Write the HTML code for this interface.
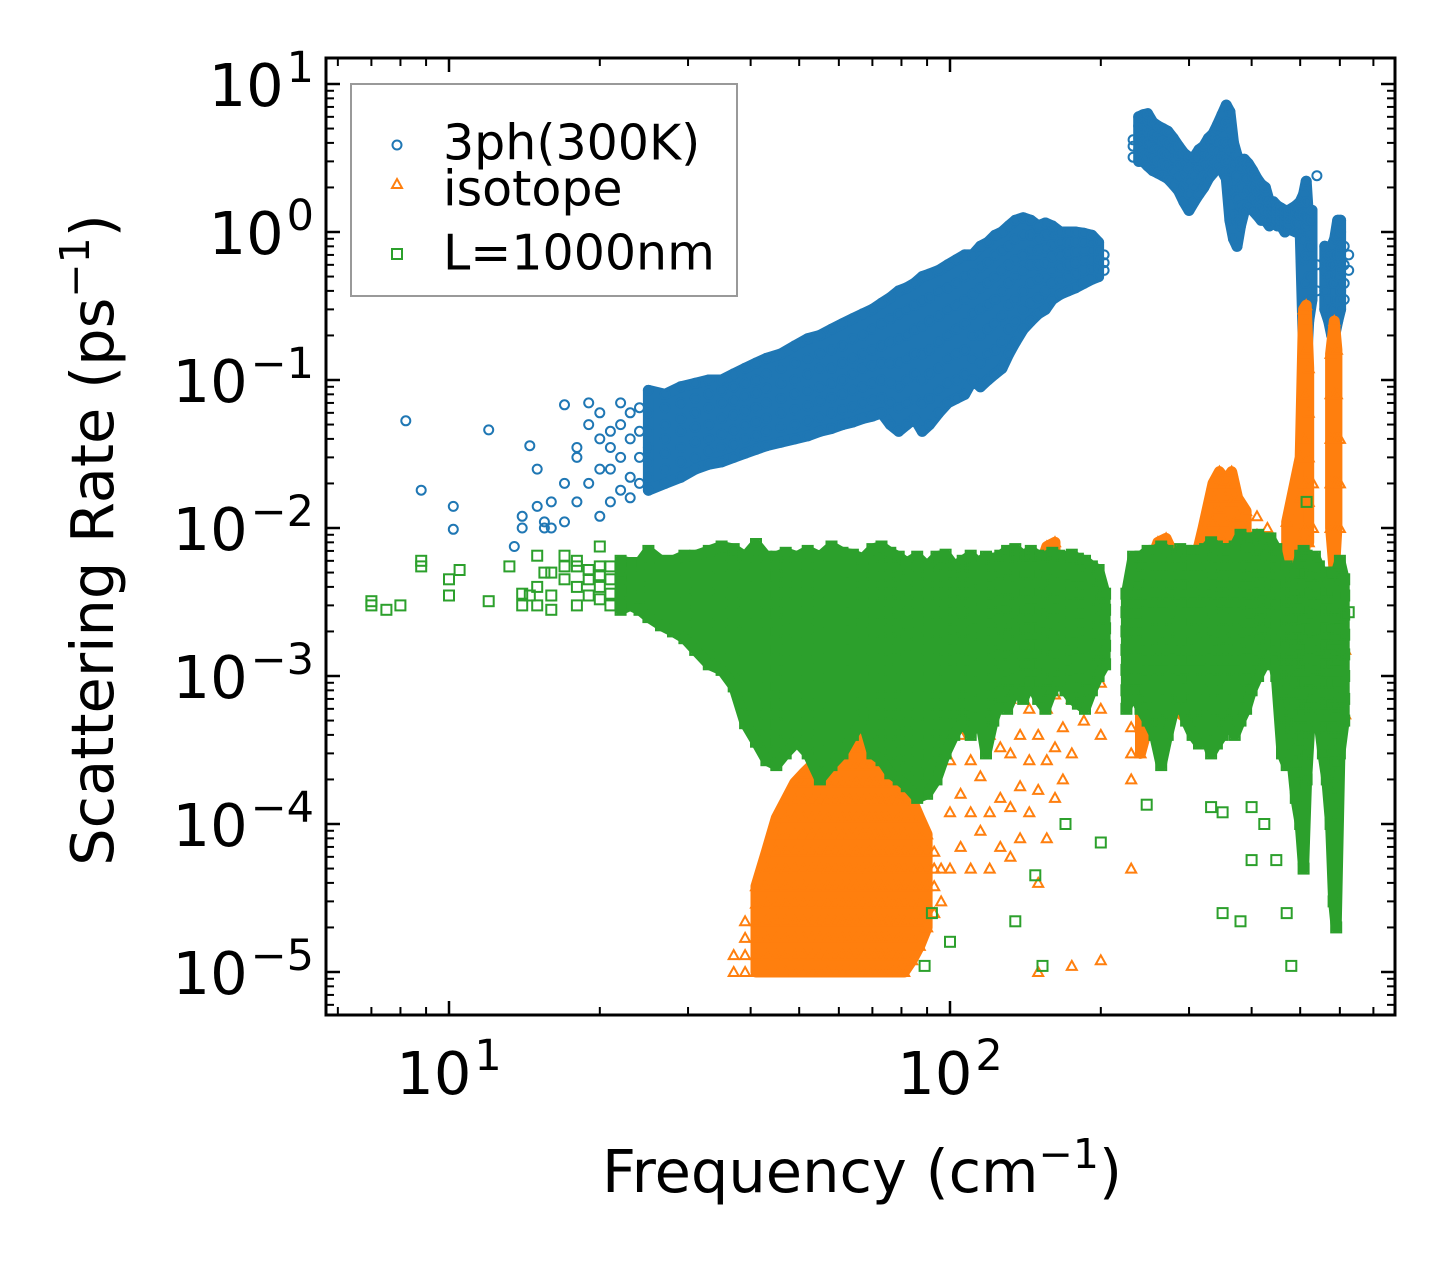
<!DOCTYPE html>
<html><head><meta charset="utf-8"><style>
html,body{margin:0;padding:0;background:#fff;}
svg{display:block;font-family:"DejaVu Sans","Liberation Sans",sans-serif;}
</style></head><body>
<svg id="chart" width="1455" height="1265" viewBox="0 0 1455 1265" xmlns="http://www.w3.org/2000/svg">
<defs><clipPath id="plotclip"><rect x="326" y="58" width="1069" height="957"/></clipPath></defs>
<rect x="0" y="0" width="1455" height="1265" fill="#fff"/>
<g id="marks" clip-path="url(#plotclip)"></g>
<g id="axes"></g>
<rect x="326" y="58" width="1069" height="957" fill="none" stroke="#000" stroke-width="3"/>
<g>
<rect x="351" y="84" width="386" height="212" fill="#fff" fill-opacity="0.8" stroke="#999" stroke-width="2"/>
<circle cx="397" cy="145" r="4.5" fill="none" stroke="#1f77b4" stroke-width="2"/>
<text x="443" y="146" font-size="49" dominant-baseline="middle">3ph(300K)</text>
<polygon points="397,179 402,188 392,188" fill="none" stroke="#ff7f0e" stroke-width="2"/>
<text x="443" y="192" font-size="49" dominant-baseline="middle">isotope</text>
<rect x="392" y="249" width="10" height="10" fill="none" stroke="#2ca02c" stroke-width="2"/>
<text x="443" y="256" font-size="49" dominant-baseline="middle">L=1000nm</text>
</g>
<text x="862" y="1192" font-size="59" text-anchor="middle">Frequency (cm<tspan font-size="41" dy="-24">−1</tspan><tspan dy="24">)</tspan></text>
<text transform="translate(113,540) rotate(-90)" font-size="59" text-anchor="middle">Scattering Rate (ps<tspan font-size="41" dy="-24">−1</tspan><tspan dy="24">)</tspan></text>
</svg>
<script>
const xTickVals = [10, 100];
const xTickExps = ["1", "2"];
const yTickVals = [1e1, 1e0, 1e-1, 1e-2, 1e-3, 1e-4, 1e-5];
const yTickExps = ["1", "0", "−1", "−2", "−3", "−4", "−5"];

// 3ph (300K) scattering rates: [frequency cm^-1, [rates ps^-1]]
const blueCols = [
[8.2,[.053]],[8.8,[.018]],[10.2,[.0098,.014]],[12,[.046]],[13.5,[.0075]],[14,[.01,.012]],[14.5,[.036]],[15,[.014,.025]],[15.5,[.01,.011]],[16,[.01,.015]],[17,[.011,.02,.068]],[18,[.015,.03,.035]],[19,[.02,.05,.07]],[20,[.012,.025,.04,.06]],[21,[.015,.025,.035,.045]],[22,[.018,.03,.05,.07]],[23,[.016,.022,.04,.06]],[24,[.02,.03,.045,.065]],
[25,[.018,.022,.028,.035,.045,.06,.085]],[27,[.02,.025,.032,.04,.05,.065,.08]],[29,[.022,.028,.035,.045,.055,.07,.09]],[31,[.025,.03,.038,.048,.06,.075,.095]],[33,[.027,.033,.04,.05,.065,.08,.1]],[35,[.028,.035,.043,.055,.07,.085,.1]],[37,[.03,.037,.046,.058,.072,.09,.11]],[39,[.032,.04,.05,.062,.078,.095,.12]],[41,[.034,.042,.052,.065,.082,.1,.13]],[43,[.036,.045,.055,.07,.088,.11,.14]],[46,[.038,.048,.06,.075,.095,.12,.15]],[49,[.04,.05,.063,.08,.1,.13,.17]],[52,[.042,.053,.067,.085,.11,.14,.19]],[55,[.045,.056,.072,.09,.12,.15,.2]],[58,[.047,.06,.076,.095,.12,.16,.22]],[61,[.05,.063,.08,.1,.13,.17,.24]],[64,[.052,.066,.085,.11,.14,.19,.26]],[67,[.055,.07,.09,.12,.15,.2,.28]],[70,[.057,.073,.095,.125,.16,.22,.3]],[73,[.06,.076,.1,.13,.17,.24,.33]],[76,[.05,.07,.095,.13,.18,.26,.36]],[79,[.045,.065,.09,.13,.19,.28,.4]],[82,[.05,.07,.1,.14,.2,.3,.42]],[85,[.055,.075,.11,.15,.22,.32,.45]],[88,[.045,.07,.1,.15,.23,.34,.5]],[91,[.05,.075,.11,.16,.25,.36,.52]],[95,[.06,.085,.12,.18,.27,.4,.55]],[99,[.07,.095,.14,.2,.3,.42,.6]],[103,[.075,.1,.15,.22,.32,.45,.65]],[107,[.08,.11,.16,.24,.35,.5,.7]],[111,[.1,.14,.2,.28,.38,.52,.7]],[115,[.09,.13,.2,.3,.42,.58,.8]],[119,[.1,.15,.22,.32,.45,.62,.85]],[123,[.11,.16,.24,.35,.5,.7,.95]],[127,[.12,.18,.27,.4,.55,.75,1.0]],[131,[.15,.22,.32,.45,.6,.8,1.1]],[135,[.18,.25,.35,.5,.65,.9,1.2]],[140,[.22,.3,.4,.55,.7,.95,1.25]],[145,[.25,.33,.45,.6,.75,.95,1.2]],[150,[.28,.36,.48,.6,.75,.9,1.1]],[155,[.3,.4,.5,.62,.78,.95,1.15]],[160,[.35,.45,.55,.68,.82,1.0,1.1]],[166,[.38,.47,.58,.7,.85,1.0]],[172,[.4,.5,.6,.72,.85,1.0]],[178,[.42,.52,.62,.74,.86,1.0]],[185,[.45,.55,.65,.75,.86,.98]],[192,[.48,.56,.65,.75,.85,.95]],[198,[.5,.58,.66,.75,.85]],[203,[.55,.62,.7]],
[232,[3.2,3.8,4.2]],[238,[3.0,3.6,4.3,5.2,6.0]],[243,[3.0,3.5,4.2,5.0,6.2]],[248,[2.8,3.3,4.0,4.8,5.8,6.3]],[254,[2.6,3.1,3.7,4.5,5.5]],[260,[2.5,3.0,3.6,4.4,5.2]],[266,[2.4,2.9,3.4,4.1,5.0]],[272,[2.3,2.8,3.3,4.0,4.8]],[279,[2.1,2.6,3.1,3.7,4.3]],[286,[1.9,2.3,2.8,3.3,3.8]],[293,[1.6,2.0,2.4,2.9,3.4]],[300,[1.4,1.8,2.2,2.7,3.2]],[307,[1.6,2.0,2.5,3.0,3.2]],[314,[1.8,2.2,2.7,3.2,3.6]],[321,[2.0,2.4,2.9,3.5,3.8]],[328,[2.3,2.8,3.3,4.0,4.3]],[335,[2.5,3.0,3.6,4.3,4.6]],[342,[2.8,3.4,4.1,5.0,5.3]],[349,[2.6,3.2,4.0,5.2,6.2]],[356,[2.3,3.0,4.0,5.5,7.2]],[362,[1.2,1.8,2.6,3.6,5.0,6.5]],[368,[0.9,1.3,1.9,2.8,4.0]],[374,[0.8,1.2,1.7,2.4,3.3]],[380,[1.1,1.5,2.0,2.7,3.0]],[387,[1.4,1.8,2.3,2.9,3.1]],[394,[1.5,1.9,2.3,2.7,2.9]],[402,[1.4,1.7,2.0,2.4,2.6]],[410,[1.3,1.6,1.9,2.2,2.3]],[418,[1.2,1.45,1.7,2.0,2.1]],[426,[1.2,1.4,1.65,1.9,2.0]],[434,[1.1,1.2,1.35,1.5,1.6]],[442,[1.2,1.3,1.4,1.5,1.6]],[450,[1.1,1.2,1.3,1.4,1.5]],[458,[1.1,1.2,1.3,1.4,1.45]],[466,[1.0,1.1,1.2,1.3,1.4]],[474,[1.05,1.15,1.25,1.35,1.4]],[490,[1.0,1.15,1.3,1.4,1.5]],[500,[1.0,1.15,1.3,1.45,1.6]],
[508,[0.15,0.22,0.3,0.45,0.65,0.9,1.3,1.8]],[514,[0.12,0.2,0.3,0.45,0.7,1.1,1.6,2.2]],[520,[0.25,0.35,0.5,0.8,1.2]],[528,[0.35,0.5,0.8,1.2,1.4]],[540,[0.4,0.6,2.4]],[560,[0.3,0.4,0.55,0.65,0.8]],[570,[0.25,0.35,0.5,0.6,0.7]],[578,[0.2,0.3,0.45,0.6,0.8]],[586,[0.2,0.3,0.45,0.7,0.9]],[594,[0.25,0.35,0.5,0.7,0.95,1.2]],[602,[0.3,0.4,0.55,0.75,1.0,1.2]],[612,[0.35,0.45,0.6,0.8]],[625,[0.55,0.7]]
];

// isotope scattering rates in units of 1e-4 ps^-1
const orangeScale = 1e-4;
const orangeCols = [
[37,[0.1,0.13]],[39,[0.1,0.13,0.17,0.22]],[41,[0.1,0.13,0.17,0.22,0.29,0.38]],[43,[0.1,0.13,0.17,0.22,0.29,0.38,0.5,0.65]],[45,[0.1,0.13,0.17,0.22,0.29,0.38,0.5,0.65,0.85,1.1]],[47,[0.1,0.13,0.17,0.22,0.29,0.38,0.5,0.65,0.85,1.1,1.45]],[49,[0.1,0.13,0.17,0.22,0.29,0.38,0.5,0.65,0.85,1.1,1.45,1.9]],[51,[0.1,0.13,0.17,0.22,0.29,0.38,0.5,0.65,0.85,1.1,1.45,1.9,2.2]],[53,[0.1,0.13,0.17,0.22,0.29,0.38,0.5,0.65,0.85,1.1,1.45,1.9,2.5]],[55,[0.1,0.13,0.17,0.22,0.29,0.38,0.5,0.65,0.85,1.1,1.45,1.9,2.5,2.9]],[57,[0.1,0.13,0.17,0.22,0.29,0.38,0.5,0.65,0.85,1.1,1.45,1.9,2.5,3.3]],[59,[0.1,0.13,0.17,0.22,0.29,0.38,0.5,0.65,0.85,1.1,1.45,1.9,2.5,3.3,3.6]],[61,[0.1,0.13,0.17,0.22,0.29,0.38,0.5,0.65,0.85,1.1,1.45,1.9,2.5,3.3,3.8]],[63,[0.1,0.13,0.17,0.22,0.29,0.38,0.5,0.65,0.85,1.1,1.45,1.9,2.5,3.3,4.3]],[65,[0.1,0.13,0.17,0.22,0.29,0.38,0.5,0.65,0.85,1.1,1.45,1.9,2.5,3.3,4.3]],[67,[0.1,0.13,0.17,0.22,0.29,0.38,0.5,0.65,0.85,1.1,1.45,1.9,2.5,3.3,4.3]],[69,[0.1,0.13,0.17,0.22,0.29,0.38,0.5,0.65,0.85,1.1,1.45,1.9,2.5,3.3,3.8]],[71,[0.1,0.13,0.17,0.22,0.29,0.38,0.5,0.65,0.85,1.1,1.45,1.9,2.5,3.3]],[73,[0.1,0.13,0.17,0.22,0.29,0.38,0.5,0.65,0.85,1.1,1.45,1.9,2.5,2.9]],[75,[0.1,0.13,0.17,0.22,0.29,0.38,0.5,0.65,0.85,1.1,1.45,1.9,2.5]],[77,[0.1,0.13,0.17,0.22,0.29,0.38,0.5,0.65,0.85,1.1,1.45,1.9,2.2]],[79,[0.1,0.13,0.17,0.22,0.29,0.38,0.5,0.65,0.85,1.1,1.45,1.9]],[81,[0.1,0.13,0.17,0.22,0.29,0.38,0.5,0.65,0.85,1.1,1.45,1.6]],[84,[0.12,0.17,0.22,0.29,0.38,0.5,0.65,0.85,1.1,1.45]],[87,[0.15,0.22,0.29,0.38,0.5,0.65,0.85,1.1]],[90,[0.2,0.29,0.38,0.5,0.65,0.85]],[93,[0.25,0.38,0.5,0.65]],[96,[0.3,0.5]],
[100,[0.5,1.2,2.7]],[105,[0.7,1.6,4]],[110,[0.5,1.2,2.7,6]],[115,[0.9,2.1,5]],[120,[0.5,1.2,4,9]],[126,[0.7,1.5,3.3,7.5]],[132,[0.6,1.3,3,7]],[138,[0.8,1.8,4,9]],[144,[1.2,2.7,6,13]],[150,[9,14,21,32,50]],[156,[9,14,21,32,50,75]],[162,[11,17,25,38,58,80]],[150,[0.4,1.7,4]],[156,[0.8,2.7,6]],[162,[1.5,3.3,7.5]],[168,[2,4.5,10,23]],[175,[3,7,15]],[185,[5,10,20]],[200,[4,6,9]],
[150,[0.1]],[175,[0.11]],[200,[0.12]],[230,[0.5]],
[230,[2,3,4.5,7]],[240,[3,4.5,7,10,15,22]],[250,[5,7.5,11,17,25,38,55]],[260,[6,9,13,20,30,45,65,80]],[270,[7,10,15,22,33,50,75,85]],[280,[6,9,13,20,30,45,65]],[300,[5,7.5,11,17,25,40]],[320,[6,9,13,20,30,45,68,100]],[335,[10,15,22,33,50,75,110,160,200]],[345,[12,18,27,40,60,90,135,200,240]],[355,[15,22,33,50,75,110,160,210]],[365,[20,30,45,68,100,150,200,240]],[375,[25,38,55,80,120,160]],[390,[30,45,68,100,130]],[410,[40,60,90,120]],[430,[50,75,100]],[470,[8,13,20,30,45,70,110]],[500,[10,20,40,80,160,300]],
[508,[50,100,200,400,800,1500,3000]],[514,[100,200,400,800,1600,2500,3200]],[520,[80,150,300,600,1200]],[530,[50,100,200]],[575,[100,200,400,800,1500]],[585,[50,100,200,400,800,1600,2500]],[592,[100,200,400,800,1600]],[600,[100,200,400]],[615,[5.5,15]]
];

// boundary (L=1000nm) scattering rates in units of 1e-4 ps^-1
const greenScale = 1e-4;
const greenCols = [
[7,[30,32]],[7.5,[28]],[8,[30]],[8.8,[55,60]],[10,[35,45]],[10.5,[52]],[12,[32]],[13.2,[55]],[14,[30,36]],[14.5,[35]],[15,[30,40,65]],[15.5,[50]],[16,[28,35,50]],[17,[45,55,65]],[18,[30,40,55,60]],[19,[35,45,52]],[20,[33,40,48,55,75]],[21,[30,36,45,55]],[22,[28,35,43,50,60]],[23,[30,38,46,55,58]],[24,[28,34,40,48,58]],[25,[25,30,38,46,55,70]],[26.5,[22,28,35,43,52,60]],[28,[20,26,32,40,50,60]],[29.5,[18,23,29,36,45,55,65]],
[31,[15,20,26,33,42,52,65]],[33,[12,16,20,26,33,42,54,70]],[35,[11,15,20,27,36,48,64,75]],[37,[8.5,11,15,20,27,36,48,64,72]],[39,[4.8,6.4,8.5,11,15,20,27,36,48,64]],[41,[3.6,4.8,6.4,8.5,11,15,20,27,36,48,64,78]],[43,[2.7,3.6,4.8,6.4,8.5,11,15,20,27,36,48,64]],[45,[2.5,3.6,4.8,6.4,8.5,11,15,20,27,36,48,64]],[47,[3,4,5.5,7.5,10,13,18,24,32,42,55,68]],[49.5,[3.6,4.8,6.4,8.5,11,15,20,27,36,48,64]],[52,[3,4,5.5,7.5,10,13,18,24,32,42,55,70]],[55,[2,2.7,3.6,4.8,6.4,8.5,11,15,20,27,36,48,64]],[58,[2.5,3.3,4.4,6,8,10.5,14,19,25,33,44,58,75]],[61,[3,4,5.5,7.5,10,13,18,24,32,42,55,68]],[64,[4,5.5,7.5,10,13,18,24,32,42,55,66]],[67,[5,6.5,8.5,11,15,20,27,36,48,62]],[70,[3,4,5.5,7.5,10,13,18,24,32,42,55,72]],[73,[2.7,3.6,4.8,6.4,8.5,11,15,20,27,36,48,64,75]],[76,[2.2,3,4,5.5,7.5,10,13,18,24,32,42,55,68]],[79,[2,2.7,3.6,4.8,6.4,8.5,11,15,20,27,36,48,64]],[82,[1.8,2.4,3.2,4.3,5.8,7.8,10,14,19,25,33,44,58]],[86,[1.5,2,2.7,3.6,4.8,6.4,8.5,11,15,20,27,36,48,64]],[90,[1.6,2.2,3,4,5.5,7.5,10,13,18,24,32,42,55]],[94,[2,2.7,3.6,4.8,6.4,8.5,11,15,20,27,36,48,64]],[98,[3,4,5.5,7.5,10,13,18,24,32,42,55,66]],[102,[4,5.5,7.5,10,13,18,24,32,42,55]],[106,[5,6.4,8.5,11,15,20,27,36,48,60]],[110,[4,5.5,7.5,10,13,18,24,32,42,55,65]],[114,[6,8,10.5,14,19,25,33,44,58]],[118,[3,4.5,6.4,8.5,11,15,20,27,36,48,64]],[122,[5,6.4,8.5,11,15,20,27,36,48,62]],[126,[7,9,12,16,21,28,37,49,65]],[130,[6,8,10.5,14,19,25,33,44,58,70]],[135,[8,11,15,20,27,36,48,64,72]],[140,[7,9,12,16,21,28,37,49,65]],[145,[9,12,16,21,28,37,49,65,70]],[150,[7,9,12,16,21,28,37,49,65]],[155,[6,8,11,15,20,27,36,48,64]],[160,[8,10.5,14,19,25,33,44,58,68]],[165,[9,12,16,21,28,37,49,65]],[170,[8,11,15,20,27,36,48,64]],[175,[7,9.5,13,17,23,31,41,55,66]],[180,[6.5,8.5,11,15,20,27,36,48,62]],[186,[6,8,11,15,20,27,36,48,60]],[192,[8,10.5,14,19,25,33,44,55]],[198,[10,13,17,23,31,41,52]],[204,[12,16,21,28,36]],
[89,[0.11]],[92,[0.25]],[100,[0.16]],[135,[0.22]],[148,[0.45]],[153,[0.11]],[170,[1]],[200,[0.75]],[247,[1.35]],
[225,[6,8,11,15,20,27,36]],[232,[8,11,15,20,27,36,48,64]],[240,[6,8,11,15,20,27,36,48,64]],[248,[5,7,9.5,13,17,23,31,41,55,70]],[256,[4,5.5,7.5,10,13,18,24,32,42,55,70]],[264,[2.5,3.5,5,7,9.5,13,17,23,31,41,55,75]],[272,[4,5.5,7.5,10,13,18,24,32,42,55,70]],[280,[6,8,11,15,20,27,36,48,64]],[288,[7,9.5,13,17,23,31,41,55,72]],[296,[5,7,9.5,13,17,23,31,41,55,70]],[305,[4,5.5,7.5,10,13,18,24,32,42,55,70]],[314,[3.5,5,7,9.5,13,17,23,31,41,55,70]],[323,[4,5.5,7.5,10,13,18,24,32,42,55,72]],[332,[3,4.2,5.8,8,11,15,20,27,36,48,64,80]],[341,[3.5,5,7,9.5,13,17,23,31,41,55,75]],[350,[4,5.5,7.5,10,13,18,24,32,42,55,72]],[360,[5,7,9.5,13,17,23,31,41,55,72]],[370,[4,5.5,7.5,10,13,18,24,32,42,55,75]],[380,[5,7,9.5,13,17,23,31,41,55,75,90]],[390,[6,8,11,15,20,27,36,48,64,85]],[400,[8,11,15,20,27,36,48,64,85]],[412,[10,13,18,24,32,42,55,72,90]],[424,[12,16,21,28,37,49,65,85]],[436,[15,20,27,36,48,64,85]],[448,[10,13,17,23,31,41,55,72]],[460,[3,4.5,6.5,9,12,16,21,28,37,49]],[470,[2.5,3.5,5,7,9.5,13,17,23,31,41,55]],[480,[3,4,5.5,7.5,10,13,18,24,32,42]],[490,[1.5,2.2,3.2,4.5,6.5,9,12,16,21,28,37,50]],[500,[1,1.5,2.2,3.2,4.5,6.5,9,12,16,21,28,37,50,65]],
[508,[0.5,0.8,1.2,1.8,2.7,4,6,9,13,18,25,35,50,70]],[515,[2,3,4.5,6.5,9,13,18,25,35,48,65]],[525,[6,8,11,15,20,27,36,48]],[535,[8,11,15,20,27,36,48,64]],[545,[5,7,9.5,13,17,23,31,41,55]],[555,[3,4.5,6.5,9,12,16,21,28,37,49]],[565,[2,3,4.5,6.5,9,12,16,21,28,37]],[575,[1,1.5,2.2,3.2,4.5,6.5,9,12,16,21,28,37,50]],[583,[0.3,0.5,0.8,1.2,1.8,2.7,4,6,9,13,18,25,35,50]],[590,[0.2,0.4,0.7,1.1,1.7,2.6,4,6,9,13,18,25,35,50]],[600,[3,4.5,6.5,9,13,18,25,35,48,60]],[612,[5,7,10,14,19,26,35,45]],[625,[27]],
[332,[1.3]],[350,[0.25,1.2]],[380,[0.22]],[400,[0.57,1.3]],[424,[1]],[448,[0.57]],[470,[0.25]],[480,[0.11]],[515,[150]]
];

const NS = "http://www.w3.org/2000/svg";
const X0 = 449, XD = 501, Y0 = 84, YD = 148;
function xPos(f){ return X0 + XD*(Math.log10(f) - 1); }
function yPos(r){ return Y0 + YD*(1 - Math.log10(r)); }

const marks = document.getElementById('marks');
const axes = document.getElementById('axes');

function mk(tag, attrs, parent){
  const e = document.createElementNS(NS, tag);
  for (const k in attrs) e.setAttribute(k, attrs[k]);
  parent.appendChild(e);
  return e;
}

function drawEnvelope(cols, scale, color, parent, name){
  let group = [];
  const flush = () => {
    if (group.length >= 2){
      const top = group.map(c => [xPos(c[0]), yPos(Math.max(...c[1])*scale)]);
      const bot = group.map(c => [xPos(c[0]), yPos(Math.min(...c[1])*scale)]).reverse();
      const pts = top.concat(bot).map(p => p[0].toFixed(1)+','+p[1].toFixed(1)).join(' ');
      const p = mk('polygon', {points:pts, fill:color, stroke:color, 'stroke-width':11, 'stroke-linejoin':'round'}, parent);
      
      
    }
    group = [];
  };
  cols.forEach(c => {
    if (c[1].length >= 5){
      const prev = group[group.length-1];
      if (prev && (Math.log10(c[0]) - Math.log10(prev[0]) > 0.05 || c[0] <= prev[0])) flush();
      group.push(c);
    } else flush();
  });
  flush();
}

const gBlue = mk('g', {fill:'none', stroke:'#1f77b4', 'stroke-width':'2'}, marks);


drawEnvelope(blueCols, 1, '#1f77b4', gBlue, 'cloud-3ph');
blueCols.forEach(col => col[1].forEach(r => {
  const c = mk('circle', {cx:xPos(col[0]).toFixed(1), cy:yPos(r).toFixed(1), r:4.5}, gBlue);
  
  
}));

const gOr = mk('g', {fill:'none', stroke:'#ff7f0e', 'stroke-width':'2'}, marks);


drawEnvelope(orangeCols, orangeScale, '#ff7f0e', gOr, 'cloud-isotope');
orangeCols.forEach(col => col[1].forEach(v => {
  const x = xPos(col[0]), y = yPos(v*orangeScale);
  const p = mk('polygon', {points:`${x.toFixed(1)},${(y-5).toFixed(1)} ${(x+5).toFixed(1)},${(y+4).toFixed(1)} ${(x-5).toFixed(1)},${(y+4).toFixed(1)}`}, gOr);
  
  
}));

const gGr = mk('g', {fill:'none', stroke:'#2ca02c', 'stroke-width':'2'}, marks);


drawEnvelope(greenCols, greenScale, '#2ca02c', gGr, 'cloud-boundary');
greenCols.forEach(col => col[1].forEach(v => {
  const x = xPos(col[0]), y = yPos(v*greenScale);
  const s = mk('rect', {x:(x-5).toFixed(1), y:(y-5).toFixed(1), width:10, height:10}, gGr);
  
  
}));

const L = 326, R = 1395, T = 58, B = 1015;
function tickLine(x1,y1,x2,y2,w){ const t = mk('line',{x1,y1,x2,y2,stroke:'#000','stroke-width':w}, axes);   }
for (let d=0; d<=2; d++){
  for (let m=1; m<=9; m++){
    const f = m*Math.pow(10,d);
    const x = xPos(f);
    if (x < L || x > R) continue;
    const len = (m===1) ? 14 : 8, w = (m===1)?2.5:2;
    tickLine(x,B,x,B-len,w); tickLine(x,T,x,T+len,w);
  }
}
for (let d=-6; d<=1; d++){
  for (let m=1; m<=9; m++){
    const r = m*Math.pow(10,d);
    const y = yPos(r);
    if (y < T || y > B) continue;
    const len = (m===1) ? 14 : 8, w = (m===1)?2.5:2;
    tickLine(L,y,L+len,y,w); tickLine(R,y,R-len,y,w);
  }
}
xTickVals.forEach((v,i) => {
  const t = mk('text', {x:xPos(v), y:1094, 'font-size':59, 'text-anchor':'middle'}, axes);
  
  
  t.innerHTML = '10<tspan font-size="43" dx="3" dy="-24">' + xTickExps[i] + '</tspan>';
});
yTickVals.forEach((v,i) => {
  const t = mk('text', {x:314, y:yPos(v)+22, 'font-size':59, 'text-anchor':'end'}, axes);
  
  
  t.innerHTML = '10<tspan font-size="43" dx="3" dy="-24">' + yTickExps[i] + '</tspan>';
});
</script>
</body></html>
